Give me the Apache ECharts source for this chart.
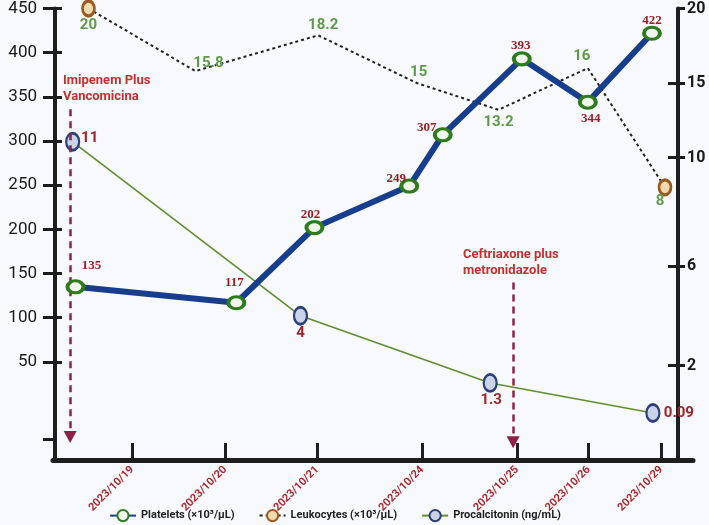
<!DOCTYPE html>
<html>
<head>
<meta charset="utf-8">
<script src="https://cdn.jsdelivr.net/npm/echarts@6/dist/echarts.min.js"></script>
<style>
  html, body { margin: 0; padding: 0; background: #f8f9fc; }
  #chart { width: 709px; height: 525px; }
</style>
</head>
<body>
<div id="chart"></div>
<script>
// ---- data ----
const dateLabels = ['2023/10/19', '2023/10/20', '2023/10/21', '2023/10/24', '2023/10/25', '2023/10/26', '2023/10/29'];
const dateTickPos = [1, 2, 2.99, 4.12, 5.14, 5.91, 6.69];

const plateletX = [0.39, 2.12, 2.96, 3.98, 4.34, 5.19, 5.90, 6.59];
const plateletValues = [135, 117, 202, 249, 307, 393, 344, 422];

const leukocyteX = [0.53, 1.68, 3.00, 4.06, 4.94, 5.90, 6.73];
const leukocyteValues = [20, 15.8, 18.2, 15, 13.2, 16, 8];

const procalcitoninX = [0.36, 2.81, 4.85, 6.60];
const procalcitoninValues = [11, 4, 1.3, 0.09];

const plateletTicks = [50, 100, 150, 200, 250, 300, 350, 400, 450];
const leukocyteTicks = [10, 15, 20];
const procalcitoninTicks = [2, 6];

const seriesNames = ['Platelets (×10³/μL)', 'Leukocytes (×10³/μL)', 'Procalcitonin (ng/mL)'];

// annotations (treatment start arrows), in axis units
const arrowX = [0.333, 5.097];
const arrowTop = [336, 140];
const arrowBottom = [-35, -41];
const arrowTexts = ['Imipenem Plus\nVancomicina', 'Ceftriaxone plus\nmetronidazole'];

// ---- styles (kept apart from the data) ----
const plateletLabelOffset = [[16, -21], [-2, -20], [-4, -13], [-13, -7], [-16, -7], [-1, -13], [3, 16], [0, -13]];
const leukocyteLabelOffset = [[0, 17], [13, -8], [5, -10], [2, -11], [0, 12], [-6, -12], [-5, 14]];
const leukocyteMarkerShown = [true, false, false, false, false, false, true];
const procalcitoninLabelOffset = [[17, -4], [0, 17], [1, 17], [26, 0]];

const AX = '#1e1e1e';

function nearestLabel(v) {
  let best = 0;
  for (let i = 1; i < dateTickPos.length; i++) {
    if (Math.abs(dateTickPos[i] - v) < Math.abs(dateTickPos[best] - v)) best = i;
  }
  return dateLabels[best];
}

const chart = echarts.init(document.getElementById('chart'));

const option = {
  backgroundColor: '#f8f9fc',
  animation: false,
  legend: {
    left: 104,
    top: 504,
    itemWidth: 26,
    itemHeight: 14,
    itemGap: 24,
    data: seriesNames,
    textStyle: { fontFamily: 'Roboto', fontWeight: 'bold', fontSize: 11, color: '#222' }
  },
  grid: [
    { left: 55, right: 31, top: 6, bottom: 65 },
    { left: 53, right: 16, top: 6, bottom: 65 }
  ],
  xAxis: [
    {
      type: 'value', gridIndex: 0, min: 0.17, max: 6.87,
      axisLine: { show: false, onZero: false },
      splitLine: { show: false },
      axisTick: { show: true, inside: true, length: 17, customValues: dateTickPos, lineStyle: { color: AX, width: 3 } },
      axisLabel: {
        customValues: dateTickPos, rotate: 45, margin: 8,
        formatter: function (v) { return nearestLabel(v); },
        color: '#b1262c', fontFamily: 'Roboto', fontWeight: 'bold', fontSize: 11
      }
    },
    {
      type: 'value', gridIndex: 1, min: 0, max: 1,
      axisLine: { show: true, onZero: false, lineStyle: { color: AX, width: 5 } },
      axisTick: { show: false }, axisLabel: { show: false }, splitLine: { show: false }
    }
  ],
  yAxis: [
    { // 0 platelets (left)
      type: 'value', gridIndex: 0, position: 'left', min: -61, max: 450,
      axisLine: { show: true, onZero: false, lineStyle: { color: AX, width: 4 } },
      axisTick: { show: true, length: 12, customValues: [-38].concat(plateletTicks), lineStyle: { color: AX, width: 3 } },
      axisLabel: { customValues: plateletTicks, margin: 18, color: '#1a1a1a', fontFamily: 'Roboto', fontSize: 17 },
      splitLine: { show: false }
    },
    { // 1 left inside ticks
      type: 'value', gridIndex: 0, position: 'left', min: -61, max: 450,
      axisLine: { show: false },
      axisTick: { show: true, inside: true, length: 7, customValues: plateletTicks, lineStyle: { color: AX, width: 3 } },
      axisLabel: { show: false }, splitLine: { show: false }
    },
    { // 2 leukocytes (right)
      type: 'value', gridIndex: 0, position: 'right', min: -10.3, max: 20,
      axisLine: { show: true, onZero: false, lineStyle: { color: AX, width: 4 } },
      axisTick: { show: true, length: 7, customValues: leukocyteTicks, lineStyle: { color: AX, width: 3 } },
      axisLabel: { customValues: leukocyteTicks, margin: 9, color: '#1a1a1a', fontFamily: 'Roboto', fontWeight: 'bold', fontSize: 16 },
      splitLine: { show: false }
    },
    { // 3 procalcitonin (right)
      type: 'value', gridIndex: 0, position: 'right', min: -1.8, max: 16.36,
      axisLine: { show: false },
      axisTick: { show: true, length: 7, customValues: procalcitoninTicks, lineStyle: { color: AX, width: 3 } },
      axisLabel: { customValues: procalcitoninTicks, margin: 9, color: '#1a1a1a', fontFamily: 'Roboto', fontWeight: 'bold', fontSize: 16 },
      splitLine: { show: false }
    },
    { // 4 right inside ticks (leukocytes)
      type: 'value', gridIndex: 0, position: 'right', min: -10.3, max: 20,
      axisLine: { show: false },
      axisTick: { show: true, inside: true, length: 10, customValues: [10, 15], lineStyle: { color: AX, width: 3 } },
      axisLabel: { show: false }, splitLine: { show: false }
    },
    { // 5 right inside ticks (procalcitonin)
      type: 'value', gridIndex: 0, position: 'right', min: -1.8, max: 16.36,
      axisLine: { show: false },
      axisTick: { show: true, inside: true, length: 10, customValues: procalcitoninTicks, lineStyle: { color: AX, width: 3 } },
      axisLabel: { show: false }, splitLine: { show: false }
    },
    { // 6 helper for overhanging x axis line
      type: 'value', gridIndex: 1, min: 0, max: 1, show: false
    }
  ],
  series: [
    {
      name: seriesNames[0], type: 'line', xAxisIndex: 0, yAxisIndex: 0, z: 5,
      data: plateletValues.map((v, i) => ({
        value: [plateletX[i], v],
        label: { offset: plateletLabelOffset[i] }
      })),
      lineStyle: { color: '#173e8c', width: 6 },
      symbol: 'circle', symbolSize: [16, 12],
      itemStyle: { color: '#f1f6ea', borderColor: '#2e7a1e', borderWidth: 3.5 },
      label: {
        show: true, position: 'inside',
        formatter: p => p.value[1],
        color: '#9e1b22', fontFamily: 'Liberation Serif', fontWeight: 'bold', fontSize: 13
      },
      markLine: {
        silent: true, animation: false,
        symbol: ['none', 'triangle'], symbolSize: [13, 12],
        lineStyle: { color: '#8c2345', type: [7, 5], width: 2.5 },
        itemStyle: { color: '#8c2345' },
        label: { show: false },
        data: arrowX.map((x, i) => [{ coord: [x, arrowTop[i]] }, { coord: [x, arrowBottom[i]] }])
      }
    },
    {
      name: seriesNames[1], type: 'line', xAxisIndex: 0, yAxisIndex: 2, z: 3,
      data: leukocyteValues.map((v, i) => {
        const item = { value: [leukocyteX[i], v], label: { offset: leukocyteLabelOffset[i] } };
        if (!leukocyteMarkerShown[i]) {
          item.symbolSize = 1;
          item.itemStyle = { color: 'rgba(0,0,0,0)', borderColor: 'rgba(0,0,0,0)', borderWidth: 0 };
        }
        return item;
      }),
      lineStyle: { color: '#222', width: 2, type: [3, 3] },
      symbol: 'circle', symbolSize: [12, 15],
      itemStyle: { color: '#f2dab0', borderColor: '#9b5a1f', borderWidth: 3 },
      label: {
        show: true, position: 'inside',
        formatter: p => p.value[1],
        color: '#5e9a4b', fontFamily: 'Roboto', fontWeight: 'bold', fontSize: 15
      }
    },
    {
      name: seriesNames[2], type: 'line', xAxisIndex: 0, yAxisIndex: 3, z: 4,
      data: procalcitoninValues.map((v, i) => ({
        value: [procalcitoninX[i], v],
        label: { offset: procalcitoninLabelOffset[i] }
      })),
      lineStyle: { color: '#5f8f2e', width: 1.6 },
      symbol: 'circle', symbolSize: [13, 17],
      itemStyle: { color: '#c9d4e8', borderColor: '#2c3f7a', borderWidth: 2.5 },
      label: {
        show: true, position: 'inside',
        formatter: p => p.value[1],
        color: '#a3232a', fontFamily: 'Roboto', fontWeight: 'bold', fontSize: 15
      }
    }
  ],
  graphic: [
    {
      type: 'text', left: 63, top: 73, z: 10,
      style: { text: arrowTexts[0], font: 'bold 13px Roboto', fill: '#c62f2f', lineHeight: 16 }
    },
    {
      type: 'text', left: 463, top: 247, z: 10,
      style: { text: arrowTexts[1], font: 'bold 13px Roboto', fill: '#c62f2f', lineHeight: 16 }
    }
  ]
};

chart.setOption(option);
</script>
</body>
</html>
